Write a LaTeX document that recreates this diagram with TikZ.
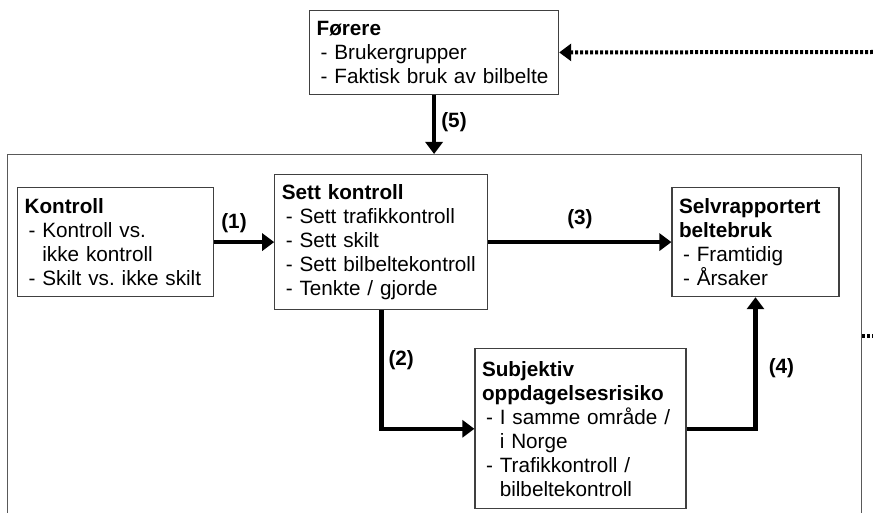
\documentclass[tikz,border=0pt]{standalone}
\usepackage{fontspec}
\setmainfont{Liberation Sans}
\usetikzlibrary{positioning,arrows.meta}
\frenchspacing

\newcommand{\punkt}{\hspace*{4pt}- }
\newcommand{\innrykk}{\hspace*{4pt}\hphantom{- }}

\begin{document}
\begin{tikzpicture}[x=1pt,y=-1pt,font=\fontsize{20.7}{24}\selectfont,
  boks/.style={rectangle,draw=black!75,line width=1.2pt,fill=white,align=left,inner xsep=7pt,inner ysep=0pt,anchor=north west},
  ramme/.style={rectangle,draw=black!65,line width=1.4pt,anchor=north west,minimum width=854pt,minimum height=366pt},
  pil/.style={-{Triangle[length=12pt,width=17pt]},line width=4.5pt},
  stiplet/.style={-{Triangle[length=12pt,width=17pt]},line width=4pt,dash pattern=on 3pt off 2pt},
  tall/.style={font=\fontsize{20.7}{24}\selectfont\bfseries,inner sep=3pt}]
\useasboundingbox (0,0) rectangle (873,513);
\clip (0,0) rectangle (873,513);
\node[ramme](r) at (7,154){};
\node[boks,text width=235pt,minimum height=84pt](fo) at (309,10){\textbf{Førere}\\\punkt Brukergrupper\\\punkt Faktisk bruk av bilbelte};
\node[boks,text width=182pt,minimum height=109pt](ko) at (17,187){\textbf{Kontroll}\\\punkt Kontroll vs.\\\innrykk ikke kontroll\\\punkt Skilt vs. ikke skilt};
\node[boks,text width=199pt,minimum height=135pt,right=60pt of ko](sk){\textbf{Sett kontroll}\\\punkt Sett trafikkontroll\\\punkt Sett skilt\\\punkt Sett bilbeltekontroll\\\punkt Tenkte / gjorde};
\node[boks,text width=153pt,minimum height=109pt,right=183pt of sk](sb){\textbf{Selvrapportert}\\\textbf{beltebruk}\\\punkt Framtidig\\\punkt Årsaker};
\node[boks,text width=197pt,minimum height=160pt,below=38pt of sk.south east,anchor=north west,xshift=-14pt](so){\textbf{Subjektiv}\\\textbf{oppdagelsesrisiko}\\\punkt I samme område /\\\innrykk i Norge\\\punkt Trafikkontroll /\\\innrykk bilbeltekontroll};
\coordinate (inn) at (873,52);
\coordinate (ut) at (873,336);
% piler mellom boksene
\draw[pil](ko)--(sk) node[tall,pos=0.33,above=4pt]{(1)};
\draw[pil](sk)|-(so) node[tall,pos=0.21,right=2pt]{(2)};
\draw[pil](sk)--(sb) node[tall,pos=0.5,above=8pt]{(3)};
\draw[pil](so)-|(sb) node[tall,pos=0.73,right=8pt]{(4)};
\draw[pil](fo)--(fo|-r.north) node[tall,pos=0.45,right=2pt]{(5)};
% tilbakekobling
\draw[stiplet](inn)--(fo);
\draw[stiplet,-](r.east|-ut)--(ut);
\end{tikzpicture}
\end{document}
